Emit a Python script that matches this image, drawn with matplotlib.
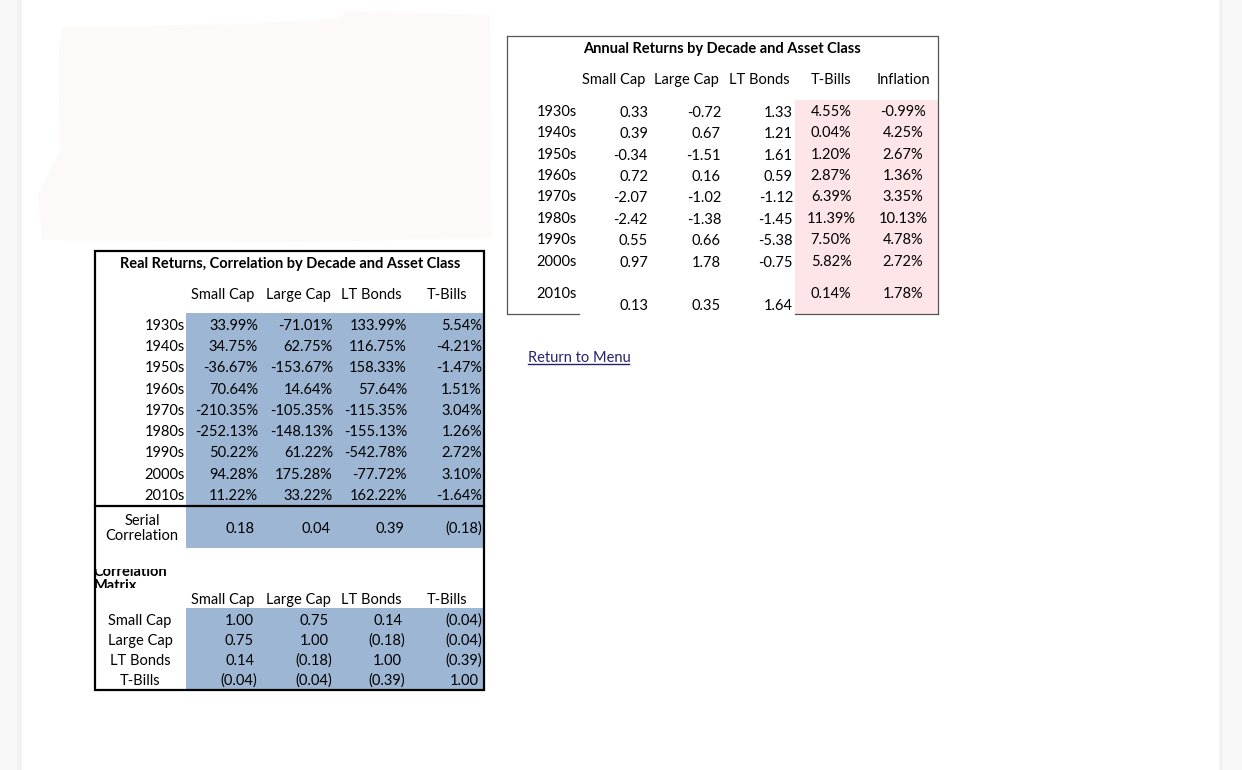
import numpy as np
import matplotlib.pyplot as plt
from matplotlib.patches import Rectangle, Polygon

plt.rcParams['font.family'] = ['Lato', 'DejaVu Sans']

# ---- data ----
decades = ['1930s', '1940s', '1950s', '1960s', '1970s', '1980s', '1990s', '2000s', '2010s']
assets = ['Small Cap', 'Large Cap', 'LT Bonds', 'T-Bills']

ann_small = [0.33, 0.39, -0.34, 0.72, -2.07, -2.42, 0.55, 0.97, 0.13]
ann_large = [-0.72, 0.67, -1.51, 0.16, -1.02, -1.38, 0.66, 1.78, 0.35]
ann_bonds = [1.33, 1.21, 1.61, 0.59, -1.12, -1.45, -5.38, -0.75, 1.64]
ann_tbills = [4.55, 0.04, 1.20, 2.87, 6.39, 11.39, 7.50, 5.82, 0.14]
ann_infl = [-0.99, 4.25, 2.67, 1.36, 3.35, 10.13, 4.78, 2.72, 1.78]

real_small = [33.99, 34.75, -36.67, 70.64, -210.35, -252.13, 50.22, 94.28, 11.22]
real_large = [-71.01, 62.75, -153.67, 14.64, -105.35, -148.13, 61.22, 175.28, 33.22]
real_bonds = [133.99, 116.75, 158.33, 57.64, -115.35, -155.13, -542.78, -77.72, 162.22]
real_tbills = [5.54, -4.21, -1.47, 1.51, 3.04, 1.26, 2.72, 3.10, -1.64]

serial_corr = [0.18, 0.04, 0.39, -0.18]
corr_small = [1.00, 0.75, 0.14, -0.04]
corr_large = [0.75, 1.00, -0.18, -0.04]
corr_bonds = [0.14, -0.18, 1.00, -0.39]
corr_tbills = [-0.04, -0.04, -0.39, 1.00]

BLUE = '#9db6d3'
PINK = '#fde5e8'
FS = 10.5
DY = 1.8  # matplotlib's va='center' sits a bit high for digits


def acct(v):
    return f'({abs(v):.2f})' if v < 0 else f'{v:.2f}'


def cell(x, y, s, ha='center', **kw):
    kw.setdefault('fontsize', FS)
    return ax.text(x, y + DY, s, ha=ha, va='center', **kw)


fig = plt.figure(figsize=(12.42, 7.70), dpi=100)
ax = fig.add_axes([0, 0, 1, 1])
ax.set_xlim(0, 1242)
ax.set_ylim(770, 0)
ax.axis('off')

# page background / side strips
ax.add_patch(Rectangle((0, 0), 22, 770, color='#f8f8f8', lw=0))
ax.add_patch(Rectangle((17, 0), 5, 770, color='#f2f2f2', lw=0))
ax.add_patch(Rectangle((1219, 0), 23, 770, color='#f8f8f8', lw=0))
ax.add_patch(Rectangle((1219, 0), 4, 770, color='#f2f2f2', lw=0))
ax.add_patch(Polygon([(62, 27), (250, 24), (340, 18), (345, 11), (490, 15), (492, 238),
                      (300, 242), (42, 240), (38, 195), (60, 150), (58, 60)],
                     color='#fdf9f9', lw=0))

# ---- right table: annual returns ----
rx0, rx1, ry0, ry1 = 507, 938, 36, 314
ax.add_patch(Rectangle((795, 100), rx1 - 795, ry1 - 100, color=PINK, lw=0))
ax.plot([rx0, rx1, rx1], [ry0, ry0, ry1], color='#555555', lw=0.9)
ax.plot([rx0, rx0, 579], [ry0, ry1, ry1], color='#555555', lw=0.9)
ax.plot([795, rx1], [ry1, ry1], color='#555555', lw=0.9)
cell(722, 47, 'Annual Returns by Decade and Asset Class', fontweight='bold')
r_heads = assets + ['Inflation']
r_head_x = [614, 686, 759, 831, 903]
for h, x in zip(r_heads, r_head_x):
    cell(x, 78, h)

r_rows = [110 + 21.4 * i for i in range(8)] + [292]
for i, d in enumerate(decades):
    y = r_rows[i]
    yv = 304 if i == 8 else y + 1
    cell(577, y, d, ha='right')
    for col, x in zip([ann_small, ann_large, ann_bonds], [648, 721, 793]):
        cell(x, yv, f'{col[i]:.2f}', ha='right')
    for col, x in zip([ann_tbills, ann_infl], [831, 903]):
        cell(x, y, f'{col[i]:.2f}%')

cell(528, 356, 'Return to Menu', ha='left', color='#22226e')
ax.plot([528, 629], [364, 364], color='#22226e', lw=1)

# ---- left table: real returns / correlation ----
lx0, lx1, ly0, ly1 = 95, 484, 251, 690
ax.add_patch(Rectangle((186, 313), lx1 - 186, 506 - 313, color=BLUE, lw=0))
ax.add_patch(Rectangle((186, 507), lx1 - 186, 548 - 507, color=BLUE, lw=0))
ax.add_patch(Rectangle((186, 608), lx1 - 186, 689 - 608, color=BLUE, lw=0))

cell(290, 262, 'Real Returns, Correlation by Decade and Asset Class', fontweight='bold')
l_head_x = [223, 298, 371, 447]
for h, x in zip(assets, l_head_x):
    cell(x, 293, h)

l_rows = [324 + 21.25 * i for i in range(9)]
l_val_x = [258, 333, 407, 482]
for i, d in enumerate(decades):
    y = l_rows[i]
    cell(185, y, d, ha='right')
    for col, x in zip([real_small, real_large, real_bonds, real_tbills], l_val_x):
        cell(x, y, f'{col[i]:.2f}%', ha='right')

cell(142, 519, 'Serial')
cell(142, 534, 'Correlation')
for v, x in zip(serial_corr, l_val_x):
    cell(x if v < 0 else x - 3, 527, acct(v), ha='right')

# label cell is too small for its text, so it shows cut off
for txt, yb in [('Correlation', 576.5), ('Matrix', 590)]:
    ax.text(94, yb, txt, ha='left', va='baseline', fontsize=10.5, fontweight='bold',
            zorder=2)
ax.add_patch(Rectangle((90, 552), 96, 17, color='white', lw=0, zorder=3))
ax.add_patch(Rectangle((90, 587.5), 96, 9, color='white', lw=0, zorder=3))

ax.add_patch(Rectangle((lx0, ly0), lx1 - lx0, ly1 - ly0, fill=False, ec='black', lw=1.6,
                       zorder=4))
ax.plot([lx0, lx1], [506, 506], color='black', lw=1.6, zorder=4)

for h, x in zip(assets, l_head_x):
    cell(x, 598, h)
m_rows = [619, 639, 659, 679]
m_val_x = [257, 332, 405, 482]
for i, a in enumerate(assets):
    y = m_rows[i]
    cell(140, y, a)
    for col, x in zip([corr_small, corr_large, corr_bonds, corr_tbills], m_val_x):
        v = col[i]
        cell(x if v < 0 else x - 3, y, acct(v), ha='right')

fig.savefig('out.png', dpi=100, facecolor='white')
